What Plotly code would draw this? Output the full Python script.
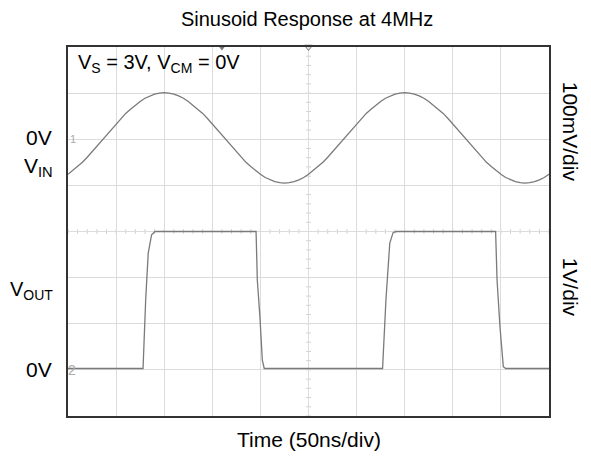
import plotly.graph_objects as go

# Eixo de tempo em divisões (50ns/div), 10 divisões
tempo_vin = [i / 10 for i in range(101)]
# Canal 1 (100mV/div), 0V na divisão 6
vin_div = [
    5.24, 5.32, 5.41, 5.50, 5.61, 5.73, 5.85, 5.97, 6.09, 6.21,
    6.33, 6.45, 6.56, 6.65, 6.74, 6.82, 6.89, 6.94, 6.98, 7.00,
    7.01, 7.00, 6.98, 6.94, 6.89, 6.82, 6.74, 6.65, 6.56, 6.45,
    6.33, 6.21, 6.09, 5.97, 5.85, 5.73, 5.61, 5.50, 5.41, 5.32,
    5.24, 5.17, 5.12, 5.08, 5.06, 5.05, 5.06, 5.08, 5.12, 5.17,
    5.24, 5.32, 5.41, 5.50, 5.61, 5.73, 5.85, 5.97, 6.09, 6.21,
    6.33, 6.45, 6.56, 6.65, 6.74, 6.82, 6.89, 6.94, 6.98, 7.00,
    7.01, 7.00, 6.98, 6.94, 6.89, 6.82, 6.74, 6.65, 6.56, 6.45,
    6.33, 6.21, 6.09, 5.97, 5.85, 5.73, 5.61, 5.50, 5.41, 5.32,
    5.24, 5.17, 5.12, 5.08, 5.06, 5.05, 5.06, 5.08, 5.12, 5.17,
    5.24,
]

# Canal 2 (1V/div), 0V na divisão 1
tempo_vout = [0.0, 1.56, 1.615, 1.668, 1.738, 1.81, 3.91, 3.936, 3.99, 4.04, 4.08,
              6.54, 6.61, 6.69, 6.76, 6.83, 8.89, 8.92, 8.98, 9.05, 9.10, 10.0]
vout_div = [1.03, 1.03, 2.52, 3.53, 3.93, 4.0, 4.0, 2.95, 2.15, 1.21, 1.03,
            1.03, 2.52, 3.75, 3.98, 4.0, 4.0, 2.95, 1.94, 1.07, 1.03, 1.03]

# Marcadores do osciloscópio no topo da tela
marcador_x = [3.2, 5.0]
marcador_y = [8, 8]

FONTE = "Arial, Liberation Sans, sans-serif"

fig = go.Figure()

# Marcas menores nos eixos centrais do retículo
for i in range(51):
    xm = i / 5
    fig.add_shape(type="line", x0=xm, x1=xm, y0=3.95, y1=4.05,
                  line=dict(color="#cfcfcf", width=1), layer="below")
for i in range(41):
    ym = i / 5
    fig.add_shape(type="line", x0=4.95, x1=5.05, y0=ym, y1=ym,
                  line=dict(color="#cfcfcf", width=1), layer="below")

fig.add_trace(go.Scatter(x=tempo_vin, y=vin_div, mode="lines",
                         line=dict(color="#7a7a7a", width=1.3), hoverinfo="skip"))
fig.add_trace(go.Scatter(x=tempo_vout, y=vout_div, mode="lines",
                         line=dict(color="#7a7a7a", width=1.3), hoverinfo="skip"))
fig.add_trace(go.Scatter(x=marcador_x, y=marcador_y, mode="markers", cliponaxis=False,
                         marker=dict(symbol=["triangle-down", "triangle-down-open"],
                                     size=7, color="#777777"),
                         hoverinfo="skip"))

fig.update_layout(
    width=583, height=459,
    margin=dict(l=60, r=42, t=39, b=51),
    paper_bgcolor="white", plot_bgcolor="white",
    showlegend=False,
    font=dict(family=FONTE, color="black"),
    title=dict(text="Sinusoid Response at 4MHz", x=0.513, xanchor="center",
               y=0.976, yanchor="middle", font=dict(size=20)),
    xaxis=dict(range=[0, 10], dtick=1, showticklabels=False, ticks="",
               showgrid=True, gridcolor="#dcdcdc", gridwidth=1, zeroline=False,
               showline=True, linecolor="#333333", linewidth=1.5, mirror=True),
    yaxis=dict(range=[0, 8], dtick=1, showticklabels=False, ticks="",
               showgrid=True, gridcolor="#dcdcdc", gridwidth=1, zeroline=False,
               showline=True, linecolor="#333333", linewidth=1.5, mirror=True),
)

anotacoes = [
    dict(text="V<sub>S</sub> = 3V, V<sub>CM</sub> = 0V", x=0.017, y=0.954, xref="paper",
         yref="paper", xanchor="left", yanchor="middle", font=dict(size=20)),
    dict(text="0V", x=-0.029, y=6.03, xref="paper", yref="y", xanchor="right",
         yanchor="middle", font=dict(size=21)),
    dict(text="V<sub>IN</sub>", x=-0.027, y=5.4, xref="paper", yref="y", xanchor="right",
         yanchor="middle", font=dict(size=21)),
    dict(text="V<sub>OUT</sub>", x=-0.027, y=2.72, xref="paper", yref="y", xanchor="right",
         yanchor="middle", font=dict(size=20)),
    dict(text="0V", x=-0.029, y=1.0, xref="paper", yref="y", xanchor="right",
         yanchor="middle", font=dict(size=21)),
    dict(text="1", x=0.01, y=6, xref="paper", yref="y", xanchor="center",
         yanchor="middle", font=dict(size=11, color="#aaaaaa")),
    dict(text="2", x=0.008, y=1, xref="paper", yref="y", xanchor="center",
         yanchor="middle", font=dict(size=14, color="#aaaaaa")),
    dict(text="100mV/div", x=1.044, y=6.16, xref="paper", yref="y", xanchor="center",
         yanchor="middle", textangle=90, font=dict(size=21)),
    dict(text="1V/div", x=1.044, y=2.8, xref="paper", yref="y", xanchor="center",
         yanchor="middle", textangle=90, font=dict(size=21)),
    dict(text="Time (50ns/div)", x=0.5, y=-0.065, xref="paper", yref="paper",
         xanchor="center", yanchor="middle", font=dict(size=21)),
]
for a in anotacoes:
    fig.add_annotation(showarrow=False, **a)

fig.write_html("out.html")
